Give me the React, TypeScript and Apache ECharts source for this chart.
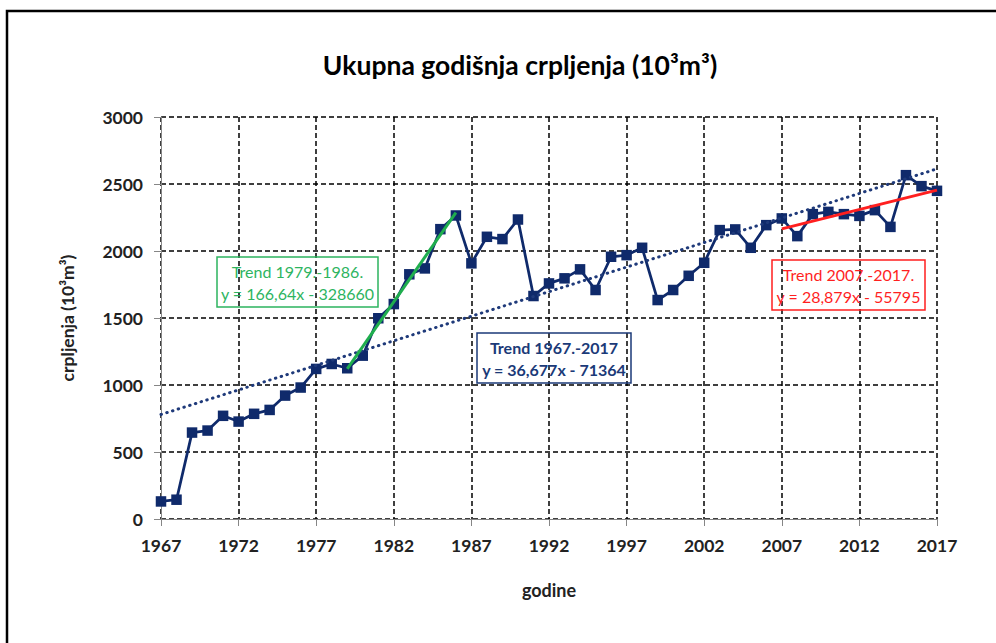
import React, { useEffect, useRef } from "react";
import * as echarts from "echarts";

const years = [
  "1967", "1968", "1969", "1970", "1971", "1972", "1973", "1974", "1975", "1976",
  "1977", "1978", "1979", "1980", "1981", "1982", "1983", "1984", "1985", "1986",
  "1987", "1988", "1989", "1990", "1991", "1992", "1993", "1994", "1995", "1996",
  "1997", "1998", "1999", "2000", "2001", "2002", "2003", "2004", "2005", "2006",
  "2007", "2008", "2009", "2010", "2011", "2012", "2013", "2014", "2015", "2016",
  "2017",
];

const production = [
  131, 144, 645, 660, 770, 727, 785, 814, 921, 981,
  1120, 1157, 1125, 1219, 1498, 1604, 1826, 1870, 2163, 2265,
  1908, 2106, 2089, 2235, 1664, 1758, 1796, 1863, 1709, 1957,
  1969, 2024, 1634, 1709, 1815, 1912, 2156, 2161, 2024, 2193,
  2243, 2111, 2275, 2292, 2275, 2262, 2305, 2180, 2566, 2484,
  2449,
];

const trendAll: [string, number][] = [["1967", 780], ["2017", 2613]];
const trend7986: [string, number][] = [["1979", 1121], ["1986", 2287]];
const trend0717: [string, number][] = [["2007", 2165], ["2017", 2454]];

const yTicks = [0, 500, 1000, 1500, 2000, 2500, 3000];

const titleText = "Ukupna godišnja crpljenja (10³m³)";
const yName = "crpljenja (10³m³)";
const xName = "godine";
const labelAll = ["Trend 1967.-2017", "y = 36,677x - 71364"];
const label7986 = ["Trend 1979.-1986.", "y = 166,64x - 328660"];
const label0717 = ["Trend 2007.-2017.", "y = 28,879x - 55795"];

const FONT = "Lato, 'Open Sans', sans-serif";
const NAVY = "#0f2a6b";
const GREEN = "#1fae4e";
const RED = "#ff1f1f";

function box(x: number, y: number, w: number, h: number, color: string, lines: string[], bold: boolean) {
  return {
    type: "group",
    children: [
      {
        type: "rect",
        shape: { x, y, width: w, height: h },
        style: { fill: "none", stroke: color, lineWidth: 1.5 },
        z: 10,
      },
      {
        type: "text",
        x: x + w / 2,
        y: y + h / 2,
        style: {
          text: lines.join("\n"),
          fill: color,
          font: `${bold ? "bold " : ""}16px ${FONT}`,
          align: "center",
          verticalAlign: "middle",
          lineHeight: 22,
        },
        z: 10,
      },
    ],
  };
}

export default function App() {
  const ref = useRef<HTMLDivElement>(null);
  useEffect(() => {
    if (!ref.current) return;
    const chart = echarts.init(ref.current, undefined, { renderer: "svg" });
    const dashed = { color: "#000", width: 1.5, type: [5, 3] as number[] };
    chart.setOption({
      animation: false,
      backgroundColor: "#fff",
      title: {
        text: titleText,
        left: 515,
        textAlign: "center",
        top: 46,
        textStyle: { fontFamily: FONT, fontWeight: "bold", fontSize: 26.5, color: "#000" },
      },
      grid: { left: 161, right: 59, top: 117, bottom: 124 },
      xAxis: {
        type: "category",
        data: years,
        boundaryGap: false,
        name: xName,
        nameLocation: "middle",
        nameGap: 62,
        nameTextStyle: { fontFamily: FONT, fontWeight: "bold", fontSize: 18, color: "#222" },
        axisLine: { lineStyle: { color: "#868686", width: 1 } },
        axisTick: { show: true, interval: 4, length: 7, lineStyle: { color: "#868686" } },
        axisLabel: {
          interval: 4,
          margin: 17,
          fontFamily: FONT,
          fontWeight: "bold",
          fontSize: 17.5,
          color: "#222",
        },
        splitLine: { show: true, interval: 4, lineStyle: dashed },
      },
      yAxis: {
        type: "value",
        min: yTicks[0],
        max: yTicks[yTicks.length - 1],
        interval: 500,
        name: yName,
        nameLocation: "middle",
        nameGap: 85,
        nameTextStyle: { fontFamily: FONT, fontWeight: "bold", fontSize: 17.5, color: "#222" },
        axisLine: { show: true, lineStyle: { color: "#868686", width: 1 } },
        axisTick: { show: true, length: 7, lineStyle: { color: "#868686" } },
        axisLabel: {
          margin: 18,
          fontFamily: FONT,
          fontWeight: "bold",
          fontSize: 17.5,
          color: "#222",
          formatter: (v: number) => String(v),
        },
        splitLine: { show: true, lineStyle: dashed },
      },
      series: [
        {
          type: "line",
          data: production,
          symbol: "rect",
          symbolSize: 10.5,
          showAllSymbol: true,
          lineStyle: { color: NAVY, width: 2.75 },
          itemStyle: { color: NAVY },
          z: 3,
        },
        {
          type: "line",
          data: trendAll,
          symbol: "none",
          lineStyle: { color: "#1f3a7a", width: 3, type: [0.5, 5.5], cap: "round" },
          z: 4,
        },
        {
          type: "line",
          data: trend7986,
          symbol: "none",
          lineStyle: { color: GREEN, width: 3 },
          z: 5,
        },
        {
          type: "line",
          data: trend0717,
          symbol: "none",
          lineStyle: { color: RED, width: 3 },
          z: 5,
        },
      ],
      graphic: [
        {
          type: "rect",
          shape: { x: 7, y: 11, width: 1100, height: 800 },
          style: { fill: "none", stroke: "#000", lineWidth: 2.5 },
          z: 20,
        },
        box(217, 257, 161, 50, "#2db45f", label7986, false),
        box(477, 333, 154, 50, "#1b3a78", labelAll, true),
        box(772, 260, 153, 50, RED, label0717, false),
      ],
    });
    return () => chart.dispose();
  }, []);
  return (
    <div
      ref={ref}
      style={{ position: "fixed", left: 0, top: 0, width: 996, height: 643 }}
    />
  );
}
